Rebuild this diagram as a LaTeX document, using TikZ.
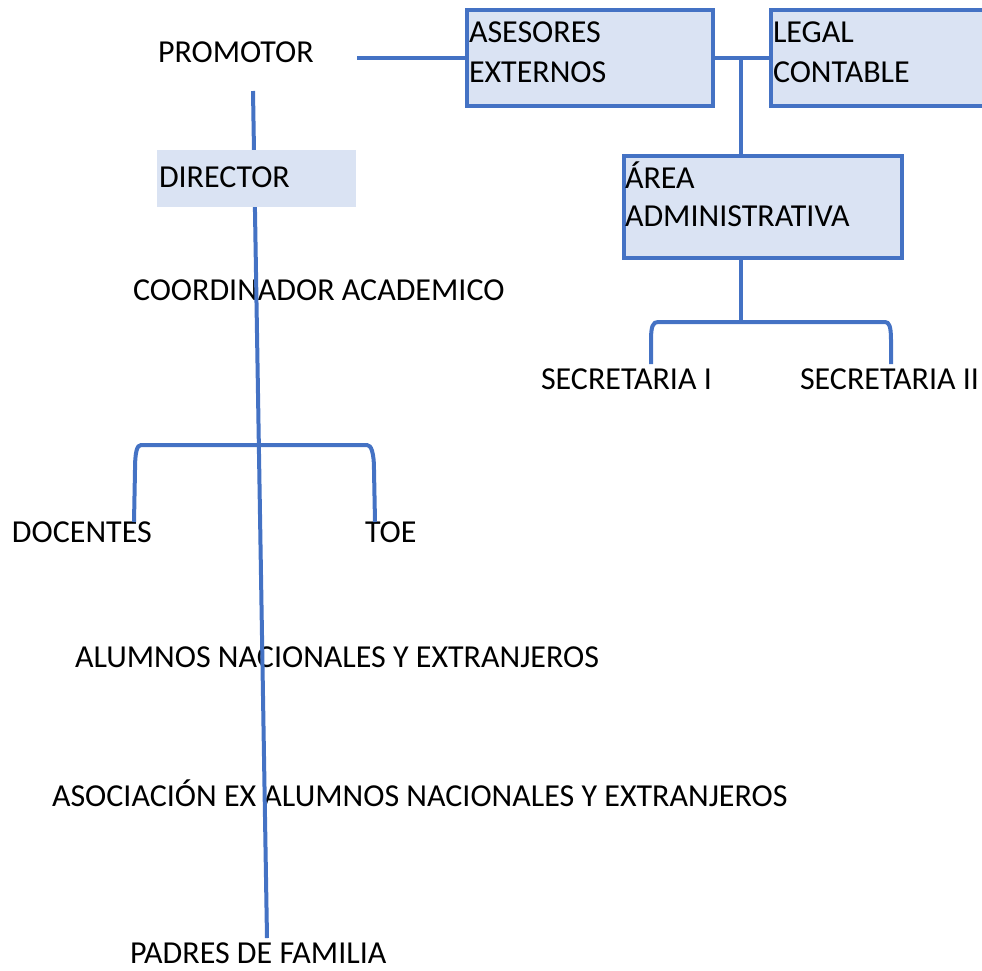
\documentclass[tikz,border=0pt]{standalone}
\usepackage{fontspec}
\setmainfont{Carlito}
\definecolor{lineblue}{HTML}{4472C4}
\definecolor{boxfill}{HTML}{DAE3F3}
\tikzset{
  lbl/.style={anchor=base west, inner sep=0pt, outer sep=0pt, font=\fontsize{32}{39}\selectfont, text=black},
  orgbox/.style={draw=lineblue, fill=boxfill, line width=4pt, inner sep=0pt, outer sep=0pt},
  conn/.style={draw=lineblue, line width=4pt},
}
\begin{document}
\begin{tikzpicture}[x=1pt,y=-1pt]
\useasboundingbox (0,0) rectangle (982,970);
% boxes
\node[orgbox, minimum width=246pt, minimum height=96pt] (asesores) at (590,58) {};
\node[orgbox, minimum width=224pt, minimum height=96pt] (legal) at (883,58) {};
\node[orgbox, minimum width=278pt, minimum height=102pt] (area) at (763,207) {};
% texts
\node[lbl] (promotor) at (158,62) {PROMOTOR};
\node[lbl] (coord) at (133,300) {COORDINADOR ACADEMICO};
\node[lbl] (docentes) at (12,542) {DOCENTES};
\node[lbl] (toe) at (365,542) {TOE};
\node[lbl] (alumnos) at (75,667) {ALUMNOS NACIONALES Y EXTRANJEROS};
\node[lbl] (asoc) at (52,806) {ASOCIACIÓN EX ALUMNOS NACIONALES Y EXTRANJEROS};
\node[lbl] (padres) at (130,963) {PADRES DE FAMILIA};
\node[lbl] (sec1) at (541,389) {SECRETARIA I};
\node[lbl] (sec2) at (800,389) {SECRETARIA II};
\node[lbl] (asesores1) at (469,42) {ASESORES};
\node[lbl] (asesores2) at (469,82) {EXTERNOS};
\node[lbl] (legal1) at (773,42) {LEGAL};
\node[lbl] (legal2) at (773,82) {CONTABLE};
\node[lbl] (area1) at (625,188) {ÁREA};
\node[lbl] (area2) at (625,226) {ADMINISTRATIVA};
% coordinates
\coordinate (promR) at (357,58);
\coordinate (mainTop) at (253,91);
\coordinate (mainBot) at (267,938);
\coordinate (adminJ) at (741,58);
\coordinate (secJ) at (741,322);
\coordinate (sec1T) at (651,364);
\coordinate (sec2T) at (891,364);
\coordinate (docT) at (134,522);
\coordinate (toeT) at (375,522);
% connectors
\draw[conn] (promR) -- (promR -| asesores.west);
\draw[conn] (asesores.east) -- (legal.west);
\draw[conn] (adminJ) -- (adminJ |- area.north);
\draw[conn] (adminJ |- area.south) -- (secJ);
\draw[conn] (sec1T) -- (651,340) .. controls (651,326) and (653,322) .. (658,322) -- (885,322) .. controls (889,322) and (891,326) .. (891,340) -- (sec2T);
\draw[conn] (mainTop) -- (mainBot);
\draw[conn] (docT) -- (135,470) .. controls (135,452) and (137,445) .. (141,445) -- (367,445) .. controls (371,445) and (374,452) .. (374,470) -- (toeT);
% director
\node[fill=boxfill, inner sep=0pt, minimum width=199pt, minimum height=57pt] (directorbg) at (256.5,178.5) {};
\node[lbl] (director) at (159,187) {DIRECTOR};
\end{tikzpicture}
\end{document}
